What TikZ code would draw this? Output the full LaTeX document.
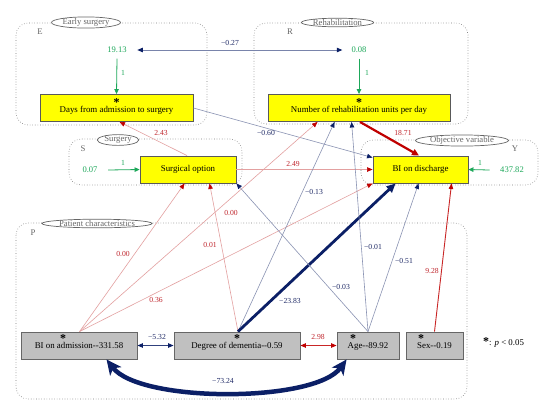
\documentclass[tikz,border=0pt]{standalone}
\usepackage{fontspec}
\setmainfont{Liberation Serif}
\usetikzlibrary{arrows.meta,shapes.geometric}
\definecolor{navy}{HTML}{0B1F66}
\definecolor{navyl}{HTML}{8A93B3}
\definecolor{redd}{HTML}{C00000}
\definecolor{redl}{HTML}{E3A0A0}
\definecolor{grn}{HTML}{1DA85A}
\definecolor{labred}{HTML}{C0262D}
\definecolor{labnavy}{HTML}{1F2A66}
\definecolor{grp}{HTML}{7C7C7C}
\definecolor{boxyel}{HTML}{FFFF00}
\definecolor{boxgray}{HTML}{C0C0C0}
\newcommand{\myast}{{\fontsize{12}{12}\selectfont\bfseries *}}
\tikzset{
  an/.tip={Triangle[length=5.5bp,width=4.5bp,color=navy]},
  ar/.tip={Triangle[length=5.5bp,width=4.5bp,color=redd]},
  ag/.tip={Triangle[length=5bp,width=4.5bp,color=grn]},
}
\begin{document}
\begin{tikzpicture}[x=1bp,y=-1bp,
  base/.style={font=\fontsize{8.9}{9}\selectfont},
  ybox/.style={base, draw=black!65, line width=0.9bp, fill=boxyel, inner sep=0pt, align=center, minimum height=27bp},
  gbox/.style={base, draw=black!60, line width=0.9bp, fill=boxgray, inner sep=0pt, align=center, minimum height=27bp},
  grpbox/.style={draw=grp, dotted, line width=0.6bp, rounded corners=12bp},
  grplab/.style={ellipse, draw=black!60, fill=white, line width=0.7bp, inner xsep=1bp, inner ysep=0bp, text=black!60, font=\fontsize{8.7}{9}\selectfont},
  grpletter/.style={text=black!60, font=\fontsize{8.7}{9}\selectfont, inner sep=0pt},
  val/.style={text=grn, font=\fontsize{8.6}{9}\selectfont, inner sep=0.5bp},
  lr/.style={text=labred, font=\fontsize{7.7}{8}\selectfont, inner sep=0.5bp},
  ln/.style={text=labnavy, font=\fontsize{7.7}{8}\selectfont, inner sep=0.5bp},
  lgr/.style={text=grn, font=\fontsize{7.7}{8}\selectfont, inner sep=0.5bp},
  rthin/.style={draw=redl, line width=0.6bp, -ar},
  nthin/.style={draw=navyl, line width=0.6bp, -an},
  gline/.style={draw=grn, line width=0.8bp, -ag},
]
\fill[white] (0,0) rectangle (550,411);
\useasboundingbox (0,0) rectangle (550,411);

% groups
\draw[grpbox] (16,23) rectangle (207,125);
\draw[grpbox] (254,23) rectangle (468,124);
\draw[grpbox] (69,139) rectangle (242,185);
\draw[grpbox] (361,140) rectangle (538,185);
\draw[grpbox] (16,223) rectangle (467,399);
\node[grplab] (gE) at (86,22.5) {Early surgery};
\node[grplab] (gR) at (337.5,22.5) {Rehabilitation};
\node[grplab] (gS) at (118,140) {Surgery};
\node[grplab] (gY) at (462,140.5) {Objective variable};
\node[grplab] (gP) at (97,223.5) {Patient characteristics};
\node[grpletter] (tE) at (40,31.5) {E};
\node[grpletter] (tR) at (290,31.5) {R};
\node[grpletter] (tS) at (83,148.5) {S};
\node[grpletter] (tY) at (515,149) {Y};
\node[grpletter] (tP) at (33,233) {P};

% boxes
\node[ybox, minimum width=153bp] (days) at (116.5,108) {\myast\\[-3bp]Days from admission to surgery\rule[-5.8bp]{0pt}{5.8bp}};
\node[ybox, minimum width=182bp] (rehab) at (359,108) {\myast\\[-3bp]Number of rehabilitation units per day\rule[-5.8bp]{0pt}{5.8bp}};
\node[ybox, minimum width=96bp] (surg) at (188,169.5) {Surgical option};
\node[ybox, minimum width=95bp] (disc) at (420.5,169.5) {BI on discharge};
\node[gbox, minimum width=116bp] (adm) at (79,345.5) {\llap{\myast\kern13bp}\\[-2.5bp]BI on admission-{}-331.58\rule[-8.3bp]{0pt}{8.3bp}};
\node[gbox, minimum width=126bp] (dem) at (237,345.5) {\myast\\[-2.5bp]Degree of dementia-{}-0.59\rule[-8.3bp]{0pt}{8.3bp}};
\node[gbox, minimum width=62bp] (age) at (368,345.5) {\llap{\myast\kern12bp}\\[-2.5bp]Age-{}-89.92\rule[-8.3bp]{0pt}{8.3bp}};
\node[gbox, minimum width=57bp] (sex) at (434.5,345.5) {\llap{\myast\kern10.5bp}\\[-2.5bp]Sex-{}-0.19\rule[-8.3bp]{0pt}{8.3bp}};

% green values
\node[val] (v1) at (117,50) {19.13};
\node[val] (v2) at (359,50) {0.08};
\node[val] (v3) at (90,170) {0.07};
\node[val] (v4) at (512,170) {437.82};
\draw[gline] ([yshift=-5bp]v1.south) -- (days.north);
\draw[gline] ([yshift=-5bp]v2.south) -- (rehab.north);
\draw[gline] ([xshift=10bp]v3.east) -- (surg.west);
\draw[gline] ([xshift=-10bp]v4.west) -- (disc.east);
\draw[draw=navy!55, line width=0.8bp, an-an] ([xshift=10bp]v1.east) -- ([xshift=-8.5bp]v2.west);

% paths
\draw[nthin] (days.east) -- ([yshift=-2bp]disc.north west);
\draw[rthin] ([xshift=-1bp]surg.north) -- ([xshift=80bp]days.south west);
\draw[draw=redd, line width=2.2bp, -{Triangle[length=7bp,width=6.5bp]}] ([xshift=1bp]rehab.south) -- ([xshift=-1.5bp]disc.north);
\draw[rthin] (surg.east) -- (disc.west);
\draw[rthin] ([xshift=59bp]adm.north west) -- ([xshift=45bp]surg.south west);
\draw[rthin] ([xshift=59bp]adm.north west) -- ([xshift=50bp]rehab.south west);
\draw[rthin] ([xshift=59bp]adm.north west) -- (disc.south west);
\draw[rthin] ([xshift=1bp]dem.north) -- ([xshift=70bp]surg.south west);
\draw[nthin] ([xshift=1bp]dem.north) -- ([xshift=67bp]rehab.south west);
\draw[draw=navy, line width=2.8bp, -{Triangle[length=9bp,width=8bp]}] ([xshift=1bp]dem.north) -- ([xshift=23bp]disc.south west);
\draw[nthin] (age.north) -- (surg.south east);
\draw[nthin] (age.north) -- ([xshift=84bp]rehab.south west);
\draw[nthin] (age.north) -- ([xshift=46bp]disc.south west);
\draw[draw=redd!85, line width=0.9bp, -ar] (sex.north) -- ([xshift=79bp]disc.south west);
\draw[draw=navy!85, line width=0.8bp, an-an] (adm.east) -- (dem.west);
\draw[draw=redd!85, line width=0.8bp, ar-ar] (dem.east) -- (age.west);
\draw[draw=navy, line width=4.5bp, {Stealth[length=15bp,width=14bp,inset=4bp]}-{Stealth[length=15bp,width=14bp,inset=4bp]}] ([xshift=86bp]adm.south west) .. controls (140,403) and (315,403) .. ([xshift=10bp]age.south west);

% labels
\node[lgr] (l1a) at (123,73) {1};
\node[lgr] (l1b) at (367,73) {1};
\node[lgr] (l1c) at (123,163) {1};
\node[lgr] (l1d) at (480,163) {1};
\node[ln] (lc1) at (230,43) {−0.27};
\node[lr] (lc2) at (161,133) {2.43};
\node[ln] (lc3) at (266,133) {−0.60};
\node[lr] (lc4) at (403,133) {18.71};
\node[lr] (lc5) at (293,164) {2.49};
\node[lr] (lc6) at (123,254) {0.00};
\node[lr] (lc7) at (231,213) {0.00};
\node[lr] (lc8) at (210,245) {0.01};
\node[lr] (lc9) at (156,300) {0.36};
\node[ln] (lc10) at (314,192) {−0.13};
\node[ln] (lc11) at (290,301) {−23.83};
\node[ln] (lc12) at (341,287) {−0.03};
\node[ln] (lc13) at (373,247) {−0.01};
\node[ln] (lc14) at (404,261) {−0.51};
\node[lr] (lc15) at (432,271) {9.28};
\node[ln] (lc16) at (157,337) {−5.32};
\node[lr] (lc17) at (318,337) {2.98};
\node[ln] (lc18) at (223,381) {−73.24};

% legend
\node[base, anchor=west, inner sep=0pt] (legend) at (483,342) {\myast: \textit{p} < 0.05};
\end{tikzpicture}
\end{document}
